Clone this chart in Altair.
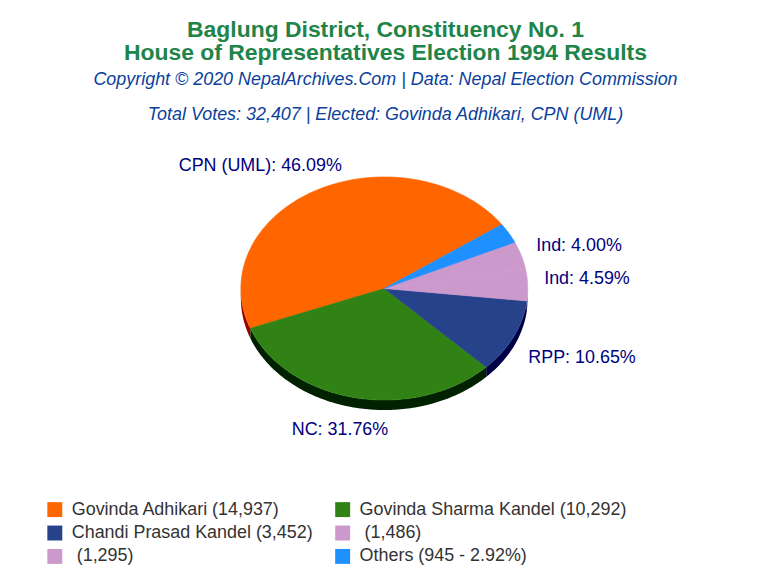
import math
import altair as alt
import pandas as pd

names = ["Govinda Adhikari (14,937)", "Govinda Sharma Kandel (10,292)", "Chandi Prasad Kandel (3,452)",
         "\u200b\u00a0(1,486)", "\u200b\u00a0(1,295)", "Others (945 - 2.92%)"]
votes = [14937, 10292, 3452, 1486, 1295, 945]
colors = ["#FF6600", "#318215", "#26428B", "#CC99CC", "#CC99CC", "#1E90FF"]
sides = ["#990000", "#002200", "#000044", "#886688", "#886688", "#1060A0"]
label_texts = ["CPN (UML): 46.09%", "Ind: 4.00%", "Ind: 4.59%", "RPP: 10.65%", "NC: 31.76%"]

W, H = 752, 440
TOP = 117          # height taken by the title block above the view
START = 35.0       # degrees, counter-clockwise from the right
DEPTH = 10 / 112
XOFF = 9.2

def to_view(y):
    return y - 8 - TOP

xs = alt.Scale(domain=[-1, 1], range=[240 - XOFF, 528 - XOFF])
ys = alt.Scale(domain=[-1, 1], range=[to_view(399.5), to_view(175.5)])
X = alt.X("x:Q", scale=xs, axis=None)
Y = alt.Y("y:Q", scale=ys, axis=None)

total = sum(votes)
layers = []
a = START
faces = []
for v, c, s in zip(votes, colors, sides):
    b = a + 360 * v / total
    lo, hi = max(a, 180), min(b, 360)
    if hi > lo:
        n = max(2, int(hi - lo) + 2)
        rows = []
        for i in range(n):
            t = math.radians(lo + (hi - lo) * i / (n - 1))
            rows.append({"x": math.cos(t), "y": math.sin(t), "y2": math.sin(t) - DEPTH})
        layers.append(alt.Chart(pd.DataFrame(rows)).mark_area(color=s).encode(X, Y, y2="y2:Q"))
    n = max(2, int(b - a) + 2)
    rows = [{"i": 0, "x": 0.0, "y": 0.0}]
    for i in range(n):
        t = math.radians(a + (b - a) * i / (n - 1))
        rows.append({"i": i + 1, "x": math.cos(t), "y": math.sin(t)})
    rows.append({"i": n + 1, "x": 0.0, "y": 0.0})
    faces.append(alt.Chart(pd.DataFrame(rows)).mark_line(fill=c, stroke=c, strokeWidth=0.6).encode(
        X, Y, order="i:Q"))
    a = b
layers += faces

legend_layer = alt.Chart(pd.DataFrame({"name": names})).mark_square(opacity=0).encode(
    x=alt.value(0), y=alt.value(0),
    color=alt.Color("name:N", sort=None, scale=alt.Scale(domain=names, range=colors),
                    legend=alt.Legend(
                        title=None, orient="none", legendX=47 - 8 - 4, legendY=to_view(500.5),
                        columns=2, direction="horizontal", symbolType="square", symbolSize=225,
                        symbolOpacity=1, symbolStrokeWidth=0, labelFont="Liberation Sans", labelFontSize=18,
                        labelColor="#333333", rowPadding=5.5, columnPadding=20, labelOffset=8,
                        labelLimit=400)))
layers.append(legend_layer)

def label(text, x, y):
    return alt.Chart(pd.DataFrame({"t": [text]})).mark_text(
        font="Liberation Sans", fontSize=18, color="#000080", align="center", baseline="middle"
    ).encode(x=alt.value(x - XOFF), y=alt.value(to_view(y)), text="t:N")

positions = [(259.5, 165), (579.5, 245), (587.5, 278), (582.5, 357), (339.5, 430)]
for t, (px, py) in zip(label_texts, positions):
    layers.append(label(t, px, py))

chart = alt.layer(*layers).properties(
    width=W, height=H,
    padding={"left": 0, "top": 10, "right": 0, "bottom": 0},
    title=alt.TitleParams(
        text=["Baglung District, Constituency No. 1", "House of Representatives Election 1994 Results"],
        subtitle=["Copyright © 2020 NepalArchives.Com | Data: Nepal Election Commission",
                  "Total Votes: 32,407 | Elected: Govinda Adhikari, CPN (UML)"],
        anchor="middle", font="Liberation Sans", fontSize=23, fontWeight="bold", color="#1E8449",
        lineHeight=23, subtitleFont="Liberation Sans", subtitleFontSize=18, subtitleFontStyle="italic",
        subtitleColor="#0B3F9C", subtitleLineHeight=35, subtitlePadding=6, offset=0),
).configure_view(stroke=None)

chart.save("out.html", embed_options={"renderer": "svg", "actions": False})
